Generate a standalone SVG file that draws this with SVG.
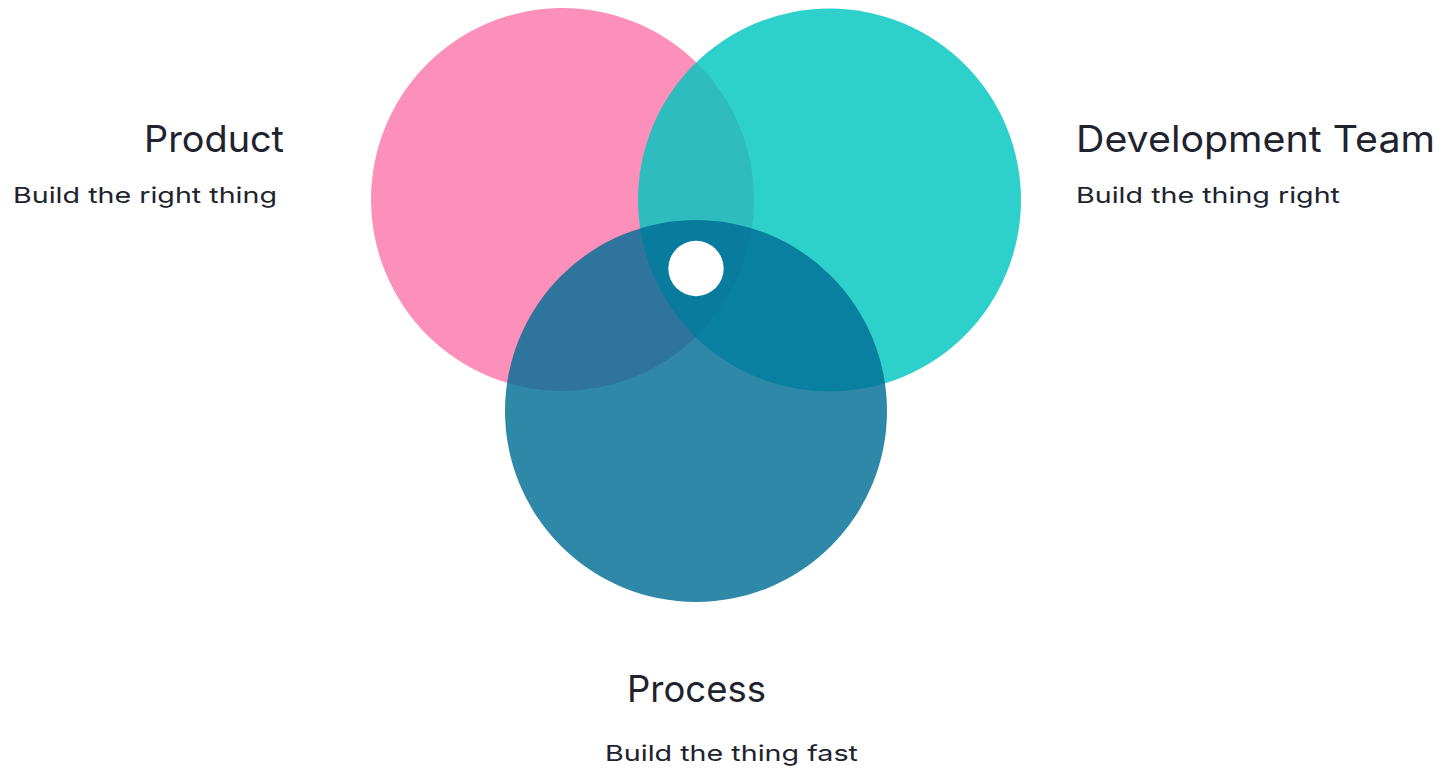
<svg xmlns="http://www.w3.org/2000/svg" width="1446" height="774" viewBox="0 0 1446 774">
<style>
.c{fill-opacity:0.82}
.t{font-family:Inter,"Open Sans","Liberation Sans",sans-serif;fill:#20232e}
.h{font-size:37px}
.s{font-size:22px}
</style>
<rect width="1446" height="774" fill="#ffffff"/>
<g id="product">
<circle class="c" cx="562.5" cy="199.5" r="191.5" fill="#fc78ab"/>
<text class="t h" x="284" y="152" text-anchor="end" textLength="140" lengthAdjust="spacingAndGlyphs">Product</text>
<text class="t s" x="13" y="203" textLength="264" lengthAdjust="spacingAndGlyphs">Build the right thing</text>
</g>
<g id="devteam">
<circle class="c" cx="829.5" cy="200" r="191.5" fill="#00c6bf"/>
<text class="t h" x="1076" y="152" textLength="359" lengthAdjust="spacingAndGlyphs">Development Team</text>
<text class="t s" x="1076" y="203" textLength="264" lengthAdjust="spacingAndGlyphs">Build the thing right</text>
</g>
<g id="process">
<circle class="c" cx="696" cy="411" r="191" fill="#016e95"/>
<text class="t h" x="627" y="702" textLength="139" lengthAdjust="spacingAndGlyphs">Process</text>
<text class="t s" x="605" y="761" textLength="253" lengthAdjust="spacingAndGlyphs">Build the thing fast</text>
</g>
<g id="center">
<circle cx="696" cy="268.5" r="27.7" fill="#ffffff"/>
</g>
<g id="connectors"></g>
</svg>
